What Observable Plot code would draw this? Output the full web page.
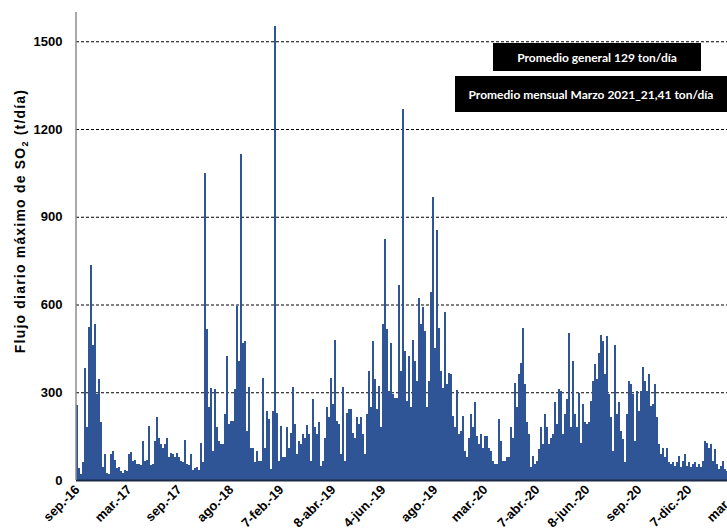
<!DOCTYPE html>
<html><head><meta charset="utf-8">
<script src="https://cdn.jsdelivr.net/npm/d3@7"></script>
<script src="https://cdn.jsdelivr.net/npm/@observablehq/plot@0.6"></script>
<style>
html,body{margin:0;padding:0;background:#fff;overflow:hidden;}
#wrap{position:relative;width:727px;height:529px;overflow:hidden;}
#wrap svg{display:block;max-width:none !important;}
.note{position:absolute;background:#000;color:#fff;font-family:Lato,"Open Sans",sans-serif;font-weight:bold;font-size:12px;display:flex;align-items:center;justify-content:center;white-space:nowrap;}
#ytitle{position:absolute;left:20px;top:221px;transform:translate(-50%,-50%) rotate(-90deg);font-family:'Liberation Sans',Arial,sans-serif;font-weight:bold;font-size:14px;letter-spacing:1.2px;white-space:nowrap;color:#000;line-height:16px;}
#ytitle sub{font-size:9px;vertical-align:-3px;line-height:0;}
</style></head><body>
<div id="wrap"></div>
<script>
const values = [
257,40,20,60,382,180,523,735,463,534,
293,344,200,43,89,25,20,90,100,70,
40,45,30,25,35,30,90,95,65,70,
55,55,50,134,65,70,183,50,55,134,
214,145,123,110,123,145,77,94,90,80,
94,77,65,60,136,55,50,89,35,40,
45,35,125,60,1050,515,248,316,100,310,
180,134,123,123,225,424,191,202,202,310,
594,407,1115,469,475,168,318,111,111,60,
100,66,66,350,111,236,208,37,236,1552,
230,66,183,77,77,180,111,162,318,191,
89,134,123,157,145,189,157,66,276,180,
157,197,49,66,145,248,214,348,259,477,
202,191,89,318,66,230,242,242,162,145,
214,191,214,157,89,225,373,248,475,344,
242,321,180,532,823,515,304,469,293,282,
282,666,373,1267,441,270,424,248,480,407,
339,622,532,592,509,248,339,642,967,452,
854,520,373,316,574,327,365,361,219,180,
307,157,168,219,100,77,145,225,180,268,
151,123,157,111,151,151,111,100,66,55,
55,208,134,66,66,77,77,180,145,333,
248,361,401,520,327,197,157,43,83,55,
66,106,180,123,225,180,123,145,157,265,
191,310,304,157,225,276,503,180,407,225,
180,299,128,259,197,191,197,270,339,395,
344,435,497,475,361,492,293,214,100,463,
225,265,168,140,60,225,339,327,293,134,
304,236,304,386,339,304,361,253,259,327,
214,123,89,111,77,111,60,55,60,49,
60,83,43,66,89,49,60,43,55,60,
43,55,43,66,134,128,111,123,66,106,
55,37,49,66,37,30
];
const tickBars = [0, 26, 51, 77, 102, 128, 153, 179, 204, 230, 255, 281, 306, 332];
const tickLabels = ["sep.-16","mar.-17","sep.-17","ago.-18","7-feb.-19","8-abr.-19","4-jun.-19","ago.-19","mar.-20","7-abr.-20","8-jun.-20","sep.-20","7-dic.-20","mar.-21"];
const yTicks = [0, 300, 600, 900, 1200, 1500];
const yTitleParts = ["Flujo diario máximo de SO", "2", " (t/día)"];
const noteGeneral = "Promedio general 129 ton/día";
const noteMonthly = "Promedio mensual Marzo 2021_21,41 ton/día";

const data = values.map((v, i) => ({i, v}));
const nBands = 345;
const labelOf = new Map(tickBars.map((b, k) => [b, tickLabels[k]]));

const chart = Plot.plot({
  width: 76 + 2 * nBands,
  height: 560,
  marginLeft: 76, marginRight: 0, marginTop: 12, marginBottom: 80,
  style: {fontFamily: "'Liberation Sans', Arial, sans-serif", background: "#fff", color: "#000", maxWidth: "none"},
  x: {type: "band", domain: d3.range(nBands), padding: 0, axis: null},
  y: {domain: [0, 1600], axis: null},
  marks: [
    Plot.ruleY(yTicks.filter(d => d > 0), {stroke: "#000", strokeDasharray: "3,2", strokeWidth: 1}),
    Plot.barY(data, {x: "i", y: "v", fill: "#2F5597", inset: 0, shapeRendering: "crispEdges"}),
    Plot.ruleY([0], {stroke: "#1c2a48", strokeWidth: 2}),
    Plot.ruleX([0], {dx: -1.5, y1: 0, y2: 1600, stroke: "#8c8c8c", strokeWidth: 1.5}),
    Plot.axisY({ticks: yTicks, tickFormat: d => String(d), tickSize: 0, tickPadding: 14, fontSize: 13, fontWeight: "bold", label: null}),
    Plot.axisX({ticks: tickBars, tickFormat: d => labelOf.get(d), tickSize: 0, tickRotate: -45,
      tickPadding: 7, fontSize: 13, fontWeight: "bold", label: null})
  ]
});
const wrap = document.getElementById("wrap");
wrap.appendChild(chart);

const yt = document.createElement("div");
yt.id = "ytitle";
yt.append(yTitleParts[0]);
const sub = document.createElement("sub");
sub.textContent = yTitleParts[1];
yt.append(sub, yTitleParts[2]);
wrap.appendChild(yt);

function addNote(text, left, top, w, h) {
  const d = document.createElement("div");
  d.className = "note";
  d.textContent = text;
  Object.assign(d.style, {left: left + "px", top: top + "px", width: w + "px", height: h + "px"});
  wrap.appendChild(d);
}
addNote(noteGeneral, 493, 43, 208, 28);
addNote(noteMonthly, 455, 76, 272, 36);
</script>
</body></html>
